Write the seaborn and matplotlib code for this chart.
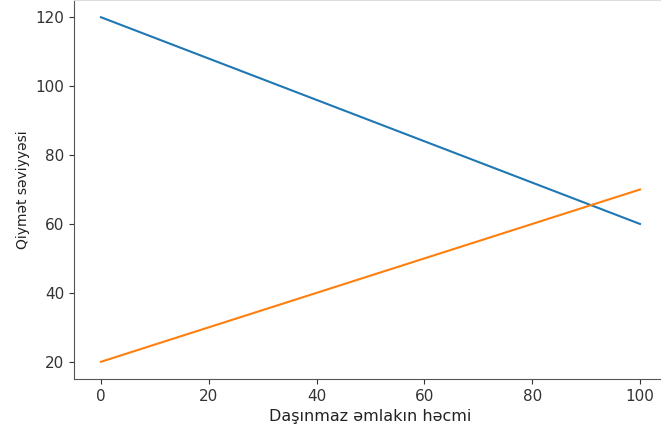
import numpy as np
import pandas as pd
import matplotlib.pyplot as plt
import seaborn as sns

# data
hecm = [0, 100]
teleb = [120, 60]
teklif = [20, 70]

df = pd.DataFrame({'hecm': hecm + hecm,
                   'qiymet': teleb + teklif,
                   'xett': ['Tələb'] * 2 + ['Təklif'] * 2})

fig = plt.figure(figsize=(6.61, 4.30), dpi=100)
ax = fig.add_axes([0.112, 0.1186, 0.897, 0.8814])
sns.lineplot(data=df, x='hecm', y='qiymet', hue='xett',
             palette=['#1f77b4', '#ff7f0e'], legend=False, ax=ax)
ax.set_xticks([0, 20, 40, 60, 80, 100])
ax.set_yticks([20, 40, 60, 80, 100, 120])
ax.tick_params(labelsize=11, colors='#333333')
ax.set_xlabel('Daşınmaz əmlakın həcmi', fontsize=11.5, color='#222222')
ax.set_ylabel('Qiymət səviyyəsi', fontsize=10, color='#222222')
ax.spines['left'].set_color('#555555')
ax.spines['bottom'].set_color('#555555')
ax.spines['top'].set_color('#dddddd')
ax.spines['right'].set_visible(False)

fig.savefig('out.png', dpi=100)
